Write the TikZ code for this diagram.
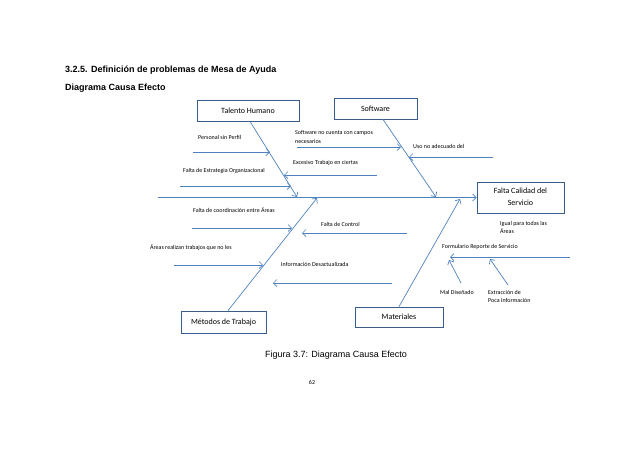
\documentclass[tikz,border=0pt]{standalone}
\usepackage{fontspec}
\setmainfont{Carlito}
\newfontfamily\arialfont{Liberation Sans}
\usetikzlibrary{positioning,arrows.meta,calc}
\definecolor{huesoazul}{RGB}{79,129,189}
\definecolor{cajaazul}{RGB}{56,93,138}

\begin{document}
\begin{tikzpicture}[x=1pt,y=-1pt,
    caja/.style={draw=cajaazul, line width=0.8pt, fill=white, inner sep=1pt, font=\fontsize{8}{12}\selectfont},
    causa/.style={anchor=west, inner sep=0pt, align=left, font=\fontsize{6}{8.5}\selectfont},
    flecha/.style={draw=huesoazul, line width=0.7pt, -{Straight Barb[length=3.5pt,width=7pt]}},
    titulo/.style={anchor=west, inner sep=0pt, font=\arialfont\bfseries\fontsize{9}{11}\selectfont}]

\useasboundingbox (0,0) rectangle (638,451);

    \node[titulo] (seccion) at (65,70) {3.2.5. Definición de problemas de Mesa de Ayuda};
    \node[titulo] (subtitulo) at (65,88) {Diagrama Causa Efecto};

    % cajas
    \node[caja, minimum width=102pt, minimum height=21pt] (TH) at (248,110.5) {Talento Humano};
    \node[caja, minimum width=83pt, minimum height=21pt] (SW) at (375.5,108.5) {Software};
    \node[caja, minimum width=87pt, minimum height=31pt] (FC) at (520.5,197.5) {\begin{tabular}{c} Falta Calidad del \\ Servicio \end{tabular}};
    \node[caja, minimum width=85pt, minimum height=22pt] (MT) at (223.5,322) {Métodos de Trabajo};
    \node[caja, minimum width=88pt, minimum height=20pt] (MA) at (399,317) {Materiales};

    % espina y huesos
    \coordinate (inicio) at (158,197.5);
    \coordinate (hTH) at (297,197);
    \coordinate (hSW) at (436,197);
    \coordinate (hMT) at (317,198);
    \coordinate (hMA) at (460,199);
    \draw[flecha] (inicio) -- (FC.west);
    \draw[flecha] ([xshift=2pt]TH.south) -- (hTH);
    \draw[flecha] ([xshift=7.5pt]SW.south) -- (hSW);
    \draw[flecha] ([xshift=4.5pt]MT.north) -- (hMT);
    \draw[flecha] (MA.north) -- (hMA);

    % Talento Humano
    \node[causa] (c1) at (198,137) {Personal sin Perfil};
    \node[causa] (c2) at (183,171) {Falta de Estrategia Organizacional};
    \coordinate (a1) at (193,152); \coordinate (b1) at (270,152);
    \coordinate (a2) at (180,186); \coordinate (b2) at (291,186);
    \draw[flecha] (a1) -- (b1);
    \draw[flecha] (a2) -- (b2);

    % Software
    \node[causa] (c3) at (295,137) {Software no cuenta con campos \\ necesarios};
    \node[causa] (c4) at (293,163) {Excesivo Trabajo en ciertas};
    \node[causa] (c5) at (413,146) {Uso no adecuado del};
    \coordinate (a3) at (297,147); \coordinate (b3) at (401,147);
    \coordinate (a4) at (377,175); \coordinate (b4) at (284,175);
    \coordinate (a5) at (493,157); \coordinate (b5) at (409,157);
    \draw[flecha] (a3) -- (b3);
    \draw[flecha] (a4) -- (b4);
    \draw[flecha] (a5) -- (b5);

    % Metodos de Trabajo
    \node[causa] (c6) at (193,210) {Falta de coordinación entre Áreas};
    \node[causa] (c7) at (321,224) {Falta de Control};
    \node[causa] (c8) at (150,248) {Áreas realizan trabajos que no les};
    \node[causa] (c9) at (281,264) {Información Desactualizada};
    \coordinate (a6) at (192,228); \coordinate (b6) at (292,228);
    \coordinate (a7) at (407,233); \coordinate (b7) at (302,233);
    \coordinate (a8) at (174,265); \coordinate (b8) at (263,265);
    \coordinate (a9) at (392,283); \coordinate (b9) at (273,283);
    \draw[flecha] (a6) -- (b6);
    \draw[flecha] (a7) -- (b7);
    \draw[flecha] (a8) -- (b8);
    \draw[flecha] (a9) -- (b9);

    % Materiales
    \node[causa] (c10) at (500,227.5) {Igual para todas las \\ Áreas};
    \node[causa] (c11) at (442,247) {Formulario Reporte de Servicio};
    \node[causa] (c12) at (440,292) {Mal Diseñado};
    \node[causa] (c13) at (488,296.5) {Extracción de \\ Poca Información};
    \coordinate (a11) at (570,257); \coordinate (b11) at (450,257);
    \coordinate (a12) at (461,283); \coordinate (b12) at (449,260);
    \coordinate (a13) at (508,285); \coordinate (b13) at (490,259);
    \draw[flecha] (a11) -- (b11);
    \draw[flecha] (a12) -- (b12);
    \draw[flecha] (a13) -- (b13);

    % pie
    \node[inner sep=0pt, font=\arialfont\fontsize{9}{11}\selectfont] (pie) at (336,355) {Figura 3.7: Diagrama Causa Efecto};
    \node[inner sep=0pt, font=\fontsize{6}{8}\selectfont] (pagina) at (312,382) {62};

\end{tikzpicture}
\end{document}
